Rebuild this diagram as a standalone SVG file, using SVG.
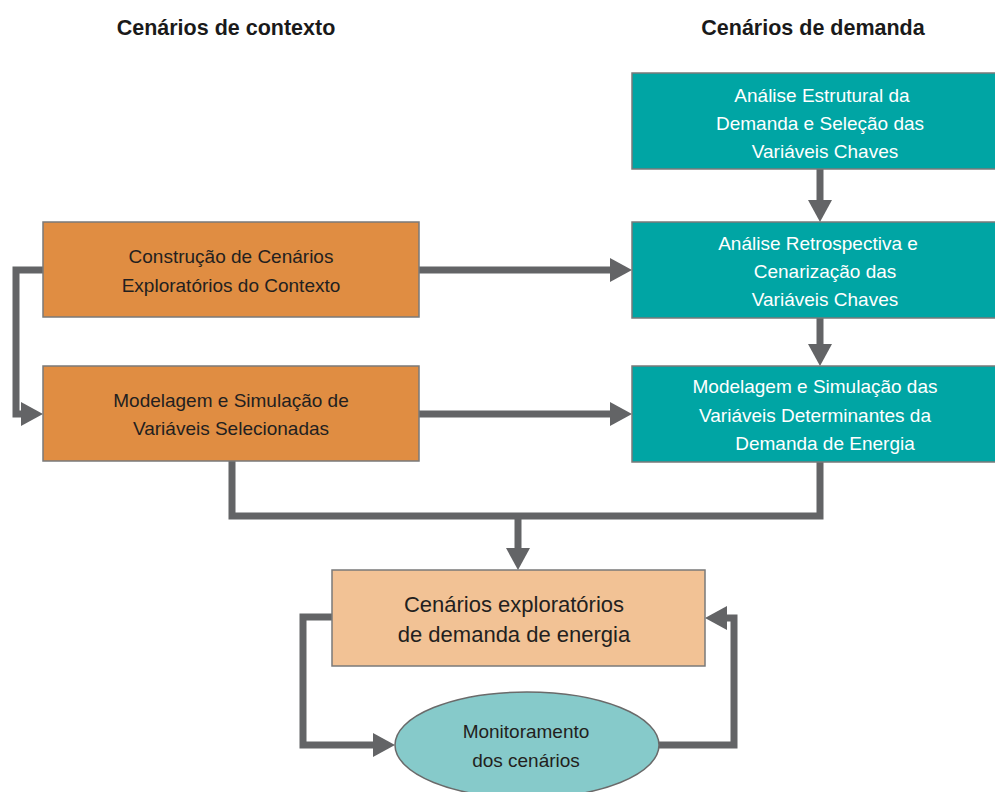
<svg xmlns="http://www.w3.org/2000/svg" width="995" height="792" viewBox="0 0 995 792">
<style>
.t{font-family:"Liberation Sans",Arial,sans-serif;text-anchor:middle}
.title{font-size:21.5px;font-weight:bold;fill:#1a1a1a}
.ob{fill:#E08D42;stroke:#7a7a7a;stroke-width:1.5}
.tb{fill:#00A5A4;stroke:#7a7a7a;stroke-width:1.5}
.lb{fill:#F2C295;stroke:#7a7a7a;stroke-width:1.5}
.el{fill:#86CACA;stroke:#6a6a6a;stroke-width:1.5}
.dk{font-size:19px;fill:#231f20}
.wh{font-size:19px;fill:#ffffff}
.big{font-size:22px;fill:#231f20}
.c{fill:none;stroke:#636466;stroke-width:7;stroke-linejoin:miter}
</style>
<defs>
<marker id="ah" viewBox="0 0 22 24" refX="0" refY="12" markerWidth="22" markerHeight="24" markerUnits="userSpaceOnUse" orient="auto">
<path d="M0,0 L22,12 L0,24 z" fill="#636466"/>
</marker>
</defs>
<rect width="995" height="792" fill="#ffffff"/>
<text class="t title" x="226" y="35">Cenários de contexto</text>
<text class="t title" x="813" y="35">Cenários de demanda</text>

<g id="connectors">
<path class="c" d="M820,169 V200" marker-end="url(#ah)"/>
<path class="c" d="M820,318 V344" marker-end="url(#ah)"/>
<path class="c" d="M419,270 H610" marker-end="url(#ah)"/>
<path class="c" d="M419,414 H610" marker-end="url(#ah)"/>
<path class="c" d="M43,270 H16 V414 H21" marker-end="url(#ah)"/>
<path class="c" d="M232,461 V516 H820 V462"/>
<path class="c" d="M518,516 V548" marker-end="url(#ah)"/>
<path class="c" d="M332,617 H303 V745 H373" marker-end="url(#ah)"/>
<path class="c" d="M659,745 H734 V618 H727" marker-end="url(#ah)"/>
</g>

<g id="n-construcao">
<rect class="ob" x="43" y="222" width="376" height="95"/>
<text class="t dk" x="231" y="263">Construção de Cenários</text>
<text class="t dk" x="231" y="292">Exploratórios do Contexto</text>
</g>
<g id="n-modelagem-ctx">
<rect class="ob" x="43" y="366" width="376" height="95"/>
<text class="t dk" x="231" y="407">Modelagem e Simulação de</text>
<text class="t dk" x="231" y="435">Variáveis Selecionadas</text>
</g>
<g id="n-analise-estrutural">
<rect class="tb" x="632" y="73" width="376" height="96"/>
<text class="t wh" x="822" y="102">Análise Estrutural da</text>
<text class="t wh" x="820" y="130">Demanda e Seleção das</text>
<text class="t wh" x="825" y="158">Variáveis Chaves</text>
</g>
<g id="n-analise-retro">
<rect class="tb" x="632" y="222" width="376" height="96"/>
<text class="t wh" x="818" y="250">Análise Retrospectiva e</text>
<text class="t wh" x="825" y="278">Cenarização das</text>
<text class="t wh" x="825" y="306">Variáveis Chaves</text>
</g>
<g id="n-modelagem-dem">
<rect class="tb" x="632" y="366" width="376" height="96"/>
<text class="t wh" x="815" y="393">Modelagem e Simulação das</text>
<text class="t wh" x="815" y="422">Variáveis Determinantes da</text>
<text class="t wh" x="825" y="450">Demanda de Energia</text>
</g>
<g id="n-cenarios-exploratorios">
<rect class="lb" x="332" y="570" width="373" height="96"/>
<text class="t big" x="514" y="612">Cenários exploratórios</text>
<text class="t big" x="514" y="642">de demanda de energia</text>
</g>
<g id="n-monitoramento">
<ellipse class="el" cx="527" cy="745" rx="132" ry="53"/>
<text class="t dk" x="526" y="738">Monitoramento</text>
<text class="t dk" x="526" y="767">dos cenários</text>
</g>
</svg>
